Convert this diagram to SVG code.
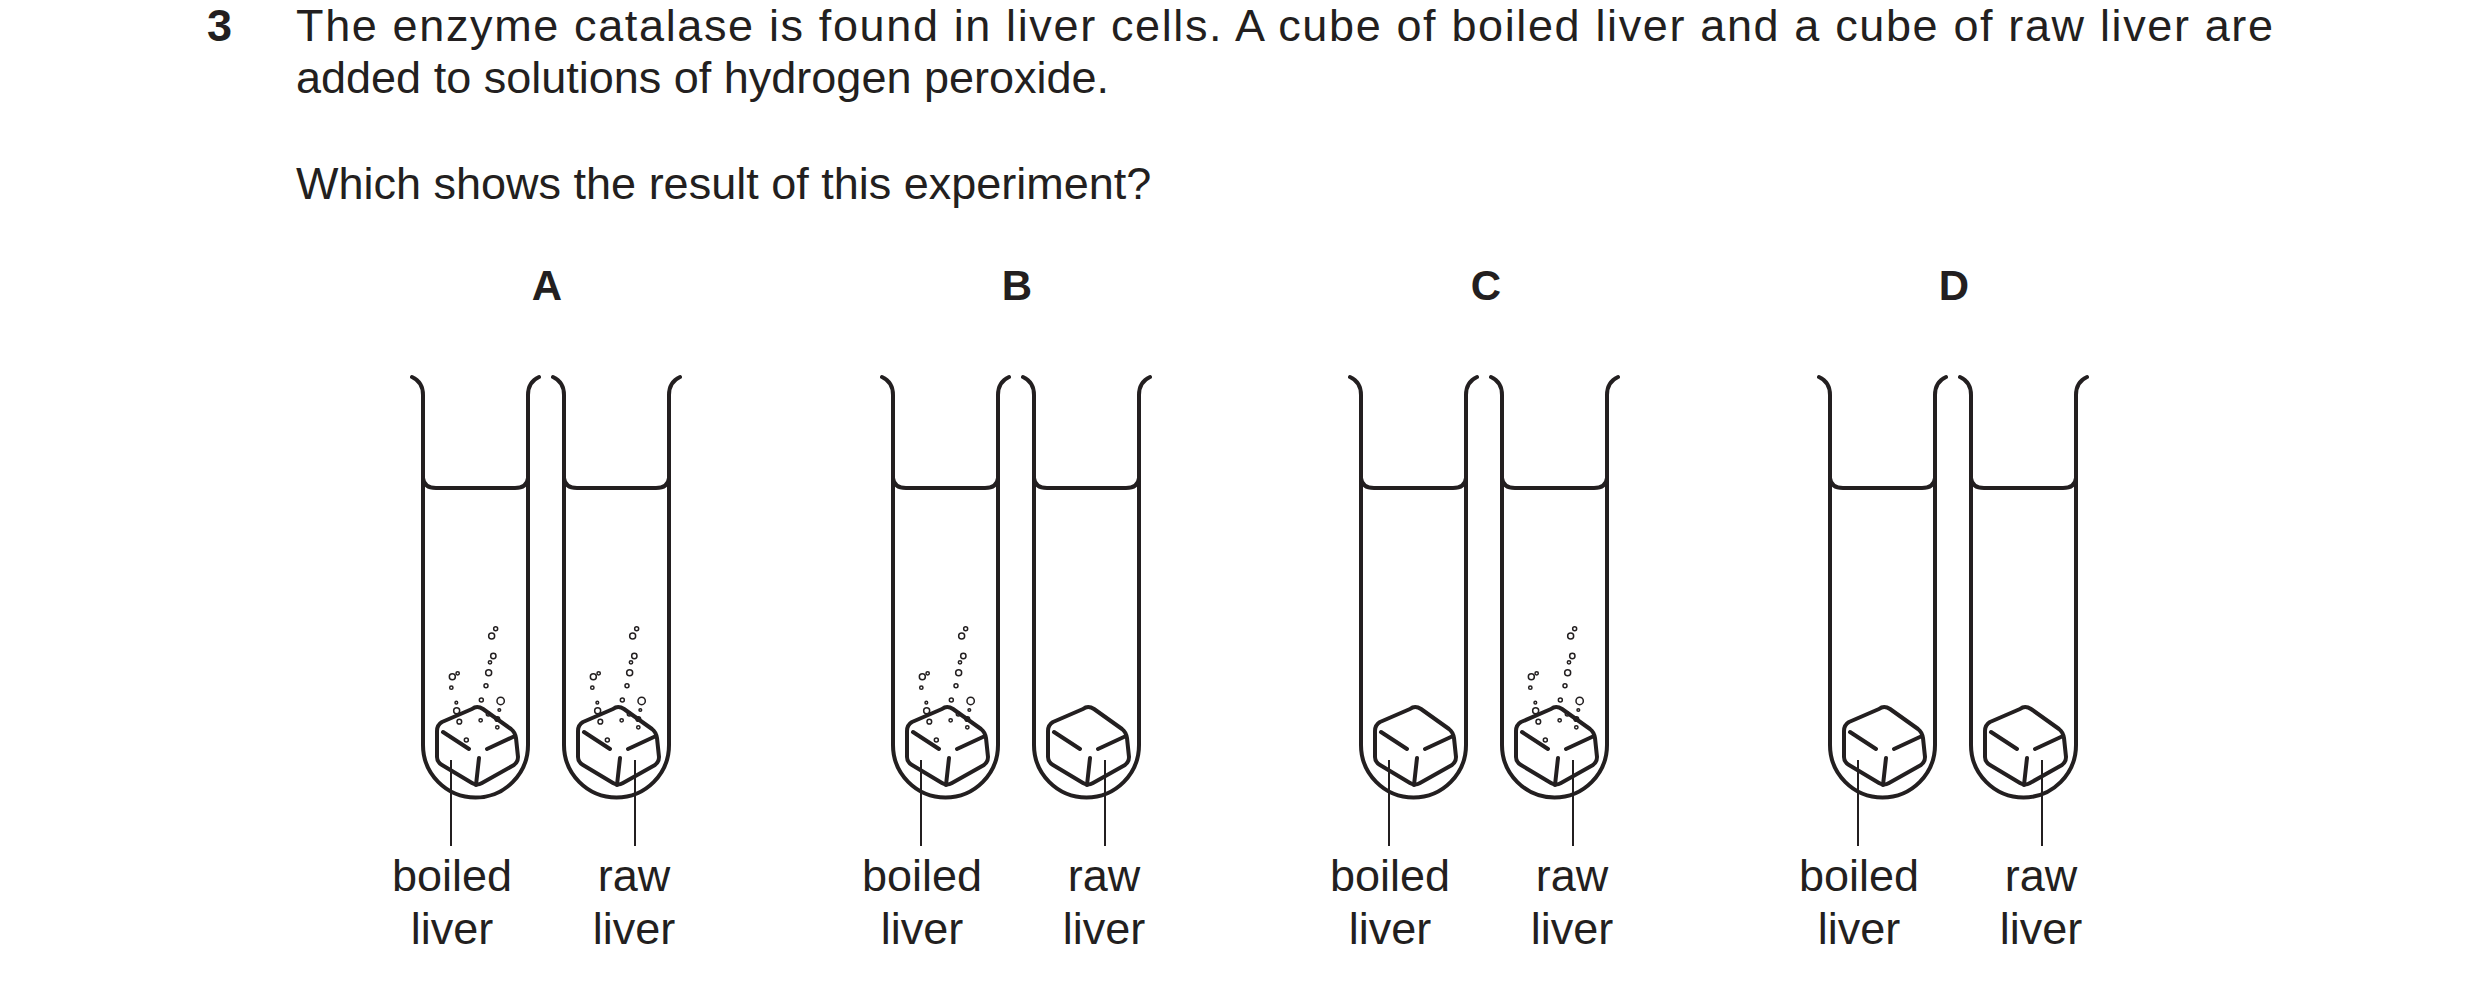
<svg xmlns="http://www.w3.org/2000/svg" xmlns:xlink="http://www.w3.org/1999/xlink" width="2480" height="987" viewBox="0 0 2480 987">
<style>
.t{font-family:"Liberation Sans",Arial,sans-serif;fill:#231f20}
.q{font-size:45px}
.h{font-size:42px;font-weight:bold;text-anchor:middle}
.l{font-size:45px;text-anchor:middle}
.s{fill:none;stroke:#231f20;stroke-width:4;stroke-linecap:round;stroke-linejoin:round}
.b{fill:none;stroke:#231f20;stroke-width:4.5}
.ld{stroke:#231f20;stroke-width:2}
</style>
<defs>
<g id="tube" class="s">
<path d="M412,377 Q423,382 423,395 V745 A52.5,52.5 0 0 0 528,745 V395 Q528,382 539,377"/>
<path d="M423,478 Q424,488 436,488 H515 Q527,488 528,478"/>
</g>
<g id="cube" class="s">
<path d="M472,709 L442,722 Q437,725 437,731 L437,757 Q437,762 442,765 L472,783 Q477,786 482,783 L514,765 Q518,762 518,757 L516,738 Q515,732 511,729 L483,709 Q477,705 472,709 Z"/>
<path d="M443,732 L469,749 M487,749 L515,736 M479,758 L476,785"/>
</g>
<g id="bub" transform="translate(380,360) scale(0.3333)" class="b">
<circle cx="335" cy="828" r="9"/><circle cx="347" cy="806" r="6"/><circle cx="340" cy="888" r="8"/><circle cx="330" cy="907" r="5"/><circle cx="326" cy="938" r="9"/><circle cx="318" cy="977" r="6"/><circle cx="217" cy="950" r="9"/><circle cx="233" cy="940" r="5"/><circle cx="214" cy="983" r="5"/><circle cx="304" cy="1020" r="6"/><circle cx="362" cy="1023" r="11"/><circle cx="229" cy="1028" r="4"/><circle cx="230" cy="1052" r="9"/><circle cx="358" cy="1050" r="4"/><circle cx="325" cy="1062" r="6"/><circle cx="352" cy="1077" r="7"/><circle cx="238" cy="1085" r="7"/><circle cx="302" cy="1081" r="5"/><circle cx="352" cy="1102" r="5"/><circle cx="259" cy="1140" r="6"/>
</g>
<g id="pair">
<use xlink:href="#tube"/><use xlink:href="#tube" x="141"/>
<use xlink:href="#cube"/><use xlink:href="#cube" x="141"/>
<line class="ld" x1="451" y1="760" x2="451" y2="846"/>
<line class="ld" x1="635" y1="760" x2="635" y2="846"/>
<text class="t l" x="452" y="891">boiled</text><text class="t l" x="452" y="944">liver</text>
<text class="t l" x="634" y="891">raw</text><text class="t l" x="634" y="944">liver</text>
</g>
</defs>
<text class="t q" x="207" y="41" font-weight="bold">3</text>
<text class="t q" x="296" y="41" textLength="1977" lengthAdjust="spacing">The enzyme catalase is found in liver cells. A cube of boiled liver and a cube of raw liver are</text>
<text class="t q" x="296" y="93">added to solutions of hydrogen peroxide.</text>
<text class="t q" x="296" y="199">Which shows the result of this experiment?</text>
<g id="A"><text class="t h" x="547" y="300">A</text><use xlink:href="#pair"/><use xlink:href="#bub"/><use xlink:href="#bub" x="141"/></g>
<g id="B"><text class="t h" x="1017" y="300">B</text><use xlink:href="#pair" x="470"/><use xlink:href="#bub" x="470"/></g>
<g id="C"><text class="t h" x="1486" y="300">C</text><use xlink:href="#pair" x="938"/><use xlink:href="#bub" x="1079"/></g>
<g id="D"><text class="t h" x="1954" y="300">D</text><use xlink:href="#pair" x="1407"/></g>
</svg>
